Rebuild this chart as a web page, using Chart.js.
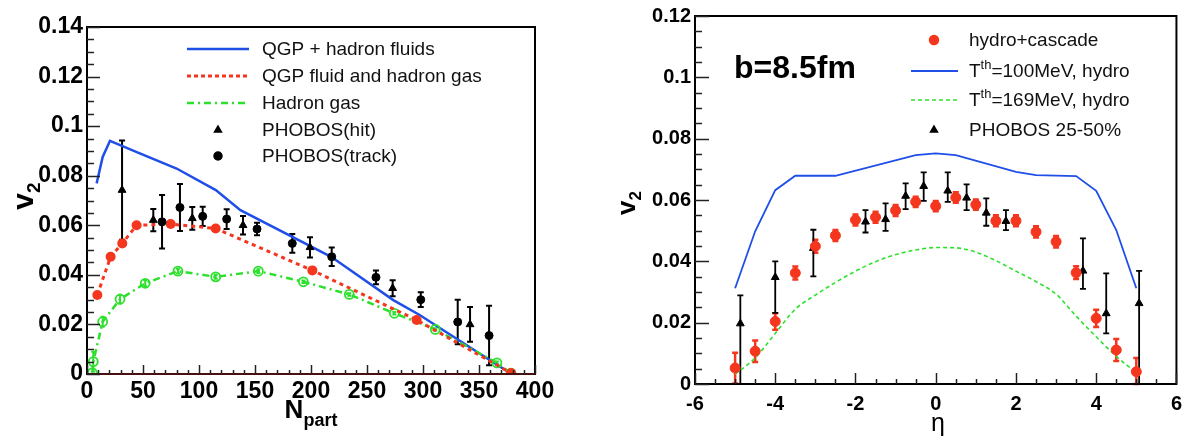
<!DOCTYPE html>
<html>
<head>
<meta charset="utf-8">
<script src="https://cdn.jsdelivr.net/npm/chart.js@4.4.0/dist/chart.umd.min.js"></script>
<style>
html, body { margin: 0; padding: 0; background: #fff; }
#left { position: absolute; left: 0; top: 0; width: 560px; height: 444px; }
#right { position: absolute; left: 600px; top: 0; width: 590px; height: 444px; }
</style>
</head>
<body>
<div id="left"><canvas id="cL"></canvas></div>
<div id="right"><canvas id="cR"></canvas></div>
<script>
// ---- left panel: v2 vs Npart ----
var leftXTicks = [0, 50, 100, 150, 200, 250, 300, 350, 400];
var leftYTicks = [0, 0.02, 0.04, 0.06, 0.08, 0.1, 0.12, 0.14];

var fluidN = [8.6, 14, 20.5, 45, 80, 115, 137, 218, 273.5, 297, 378];
var fluidV = [0.0769, 0.0876, 0.0941, 0.0894, 0.0829, 0.0742, 0.0661, 0.0473, 0.0298, 0.0238, 0.0003];

var gasN = [9.2, 21.1, 31.5, 44.3, 74.7, 114.9, 201.2, 294.3, 378.6];
var gasV = [0.0319, 0.0473, 0.0527, 0.0600, 0.0605, 0.0587, 0.0418, 0.0218, 0.0004];

var hadN = [4.8, 5.6, 14, 29.5, 52, 81.2, 114.9, 153, 193.2, 234.2, 274.4, 311, 366, 378.6];
var hadV = [0.0005, 0.005, 0.0211, 0.0302, 0.0366, 0.0415, 0.0392, 0.0415, 0.0372, 0.0321, 0.0245, 0.018, 0.0045, 0.0003];
var hadE = [0, 0.004, 0.002, 0.0018, 0.0012, 0.001, 0.0008, 0.0008, 0.0005, 0.0005, 0.0005, 0.0005, 0.0005, 0];

var hitN = [31.3, 59.2, 94, 139.3, 199.1, 272.9, 342];
var hitV = [0.0742, 0.0621, 0.0628, 0.0600, 0.0511, 0.0346, 0.020];
var hitE = [0.0200, 0.0045, 0.0046, 0.0037, 0.0041, 0.0032, 0.007];

var trackN = [67, 83, 103.3, 124.7, 151.8, 183.3, 218.5, 258, 298, 331, 359];
var trackV = [0.0614, 0.0672, 0.0636, 0.0625, 0.0585, 0.0527, 0.0473, 0.0390, 0.0300, 0.0210, 0.0155];
var trackE = [0.0108, 0.0095, 0.0039, 0.004, 0.0025, 0.0038, 0.0037, 0.0028, 0.003, 0.009, 0.012];

// ---- right panel: v2 vs eta ----
var rightXTicks = [-6, -4, -2, 0, 2, 4, 6];
var rightYTicks = [0, 0.02, 0.04, 0.06, 0.08, 0.1, 0.12];

var cascEta = [-5, -4.5, -4, -3.5, -3, -2.5, -2, -1.5, -1, -0.5, 0, 0.5, 1, 1.5, 2, 2.5, 3, 3.5, 4, 4.5, 5];
var cascV = [0.0052, 0.0107, 0.0204, 0.0362, 0.0449, 0.0484, 0.0535, 0.0544, 0.0566, 0.0594, 0.0580, 0.0608, 0.0585, 0.0532, 0.0532, 0.0496, 0.0464, 0.0363, 0.0214, 0.0111, 0.0040];
var cascE = [0.0050, 0.0035, 0.0027, 0.0021, 0.0021, 0.0018, 0.0018, 0.0018, 0.0018, 0.0017, 0.0017, 0.0017, 0.0017, 0.0018, 0.0018, 0.0018, 0.0019, 0.0021, 0.0028, 0.0036, 0.0045];

var t100Eta = [-5, -4.5, -4, -3.5, -2.5, -0.5, 0, 0.5, 2, 2.5, 3.5, 4, 4.5, 5];
var t100V = [0.0312, 0.0498, 0.0632, 0.0679, 0.0679, 0.0746, 0.0752, 0.0746, 0.0692, 0.0681, 0.0678, 0.063, 0.0502, 0.0312];

var t169Eta = [-5, -4.5, -4, -3.5, -3, -2.5, -2, -1.5, -1, -0.5, 0, 0.5, 1, 1.5, 2, 2.5, 3, 3.5, 4, 4.5, 5];
var t169V = [0.0032, 0.0085, 0.0165, 0.0244, 0.0290, 0.0331, 0.0368, 0.0399, 0.0422, 0.0437, 0.0445, 0.0444, 0.0430, 0.0402, 0.0368, 0.0334, 0.0293, 0.0221, 0.0154, 0.0090, 0.0037];

var phobEta = [-4.87, -4.0, -3.05, -1.75, -1.25, -0.75, -0.30, 0.30, 0.77, 1.26, 1.75, 3.67, 4.25, 5.07];
var phobV = [0.0197, 0.0348, 0.0443, 0.0529, 0.0537, 0.0613, 0.0645, 0.0630, 0.0607, 0.0558, 0.0531, 0.0369, 0.0230, 0.0263];
var phobHi = [0.0092, 0.0052, 0.006, 0.0038, 0.0052, 0.0041, 0.0045, 0.006, 0.0044, 0.0047, 0.0036, 0.0106, 0.0131, 0.0106];
var phobLo = [0.0197, 0.0116, 0.0092, 0.0035, 0.0038, 0.0043, 0.0048, 0.0036, 0.004, 0.0042, 0.0029, 0.0059, 0.0065, 0.0263];

var RED = '#f5361e', BLUE = '#1f4fe8', GREEN = '#2ee02e', BLACK = '#000';
var FONT = 'Liberation Sans, Arial, Helvetica, sans-serif';

Chart.defaults.font.family = FONT;
Chart.defaults.color = '#000';

function pts(xs, ys) {
	return xs.map(function (x, i) { return { x: x, y: ys[i] }; });
}

function fmt(v) {
	return String(+v.toFixed(3));
}

// draws text made of pieces, some of them raised or lowered
function richText(ctx, parts, x, y, align) {
	var total = 0;
	parts.forEach(function (p) { ctx.font = p.font; total += ctx.measureText(p.t).width; });
	var cx = align === 'center' ? x - total / 2 : x;
	ctx.textAlign = 'left';
	parts.forEach(function (p) {
		ctx.font = p.font;
		ctx.fillText(p.t, cx, y + (p.dy || 0));
		cx += ctx.measureText(p.t).width;
	});
}

var deco = {
	id: 'deco',
	beforeDatasetsDraw: function (chart, args, o) {
		var ctx = chart.ctx, xs = chart.scales.x, ys = chart.scales.y;
		ctx.save();
		chart.data.datasets.forEach(function (ds) {
			if (!ds.errHi) return;
			ctx.strokeStyle = ds.errColor;
			ctx.lineWidth = ds.errWidth;
			ds.data.forEach(function (p, j) {
				if (!ds.errHi[j] && !ds.errLo[j]) return;
				var px = xs.getPixelForValue(p.x);
				var top = ys.getPixelForValue(p.y + ds.errHi[j]);
				var bot = ys.getPixelForValue(Math.max(ys.min, p.y - ds.errLo[j]));
				ctx.beginPath();
				ctx.moveTo(px, top); ctx.lineTo(px, bot);
				ctx.moveTo(px - ds.capW, top); ctx.lineTo(px + ds.capW, top);
				ctx.moveTo(px - ds.capW, bot); ctx.lineTo(px + ds.capW, bot);
				ctx.stroke();
			});
		});
		ctx.restore();
	},
	afterDraw: function (chart, args, o) {
		var ctx = chart.ctx, a = chart.chartArea, xs = chart.scales.x, ys = chart.scales.y;
		ctx.save();
		// frame
		ctx.strokeStyle = '#000';
		ctx.lineWidth = o.frameWidth;
		ctx.strokeRect(a.left, a.top, a.right - a.left, a.bottom - a.top);
		if (o.bottomColor) {
			ctx.strokeStyle = o.bottomColor;
			ctx.beginPath(); ctx.moveTo(a.left, a.bottom); ctx.lineTo(a.right, a.bottom); ctx.stroke();
		}
		// ticks pointing in
		ctx.strokeStyle = '#222';
		ctx.lineWidth = o.tickWidth;
		var n = Math.round((xs.max - xs.min) / o.xMinor);
		for (var i = 0; i <= n; i++) {
			var v = xs.min + i * o.xMinor;
			var major = Math.abs(v / o.xMajor - Math.round(v / o.xMajor)) < 1e-6;
			var px = Math.round(xs.getPixelForValue(v)) + 0.5;
			ctx.beginPath(); ctx.moveTo(px, a.bottom); ctx.lineTo(px, a.bottom - (major ? o.xMajorLen : o.xMinorLen)); ctx.stroke();
		}
		n = Math.round((ys.max - ys.min) / o.yMinor);
		for (i = 0; i <= n; i++) {
			v = ys.min + i * o.yMinor;
			major = Math.abs(v / o.yMajor - Math.round(v / o.yMajor)) < 1e-6;
			var py = Math.round(ys.getPixelForValue(v)) + 0.5;
			ctx.beginPath(); ctx.moveTo(a.left, py); ctx.lineTo(a.left + (major ? o.yMajorLen : o.yMinorLen), py); ctx.stroke();
		}
		// legend
		ctx.fillStyle = '#111';
		ctx.textBaseline = 'middle';
		o.legend.forEach(function (e) {
			ctx.save();
			if (e.line) {
				ctx.strokeStyle = e.color;
				ctx.lineWidth = e.width;
				ctx.setLineDash(e.dash || []);
				ctx.beginPath(); ctx.moveTo(e.x0, e.y); ctx.lineTo(e.x1, e.y); ctx.stroke();
			}
			if (e.marker) {
				ctx.fillStyle = e.color;
				ctx.strokeStyle = e.color;
				Chart.helpers.drawPoint(ctx, { pointStyle: e.marker, radius: e.r, rotation: 0, borderWidth: 1 }, e.mx, e.y);
			}
			ctx.restore();
			ctx.fillStyle = '#111';
			ctx.textBaseline = 'middle';
			richText(ctx, e.parts, o.legendTextX, e.y + 1, 'left');
		});
		// titles
		ctx.fillStyle = '#000';
		ctx.textBaseline = 'alphabetic';
		o.titles.forEach(function (t) {
			ctx.save();
			ctx.translate(t.x, t.y);
			ctx.rotate(t.rot || 0);
			richText(ctx, t.parts, 0, 0, t.align || 'center');
			ctx.restore();
		});
		ctx.restore();
	}
};

function makeOptions(cfg) {
	return {
		responsive: true,
		maintainAspectRatio: false,
		animation: false,
		events: [],
		layout: { padding: cfg.padding },
		plugins: { legend: { display: false }, tooltip: { enabled: false }, deco: cfg.deco },
		scales: {
			x: {
				type: 'linear', min: cfg.xMin, max: cfg.xMax,
				afterBuildTicks: function (s) { s.ticks = cfg.xTicks.map(function (v) { return { value: v }; }); },
				afterFit: function (s) { s.height = cfg.xHeight; },
				ticks: { font: { size: cfg.tickSize, weight: 'bold' }, color: '#000', padding: cfg.xPad, maxRotation: 0, autoSkip: false, callback: fmt },
				grid: { display: false, drawTicks: false },
				border: { display: false }
			},
			y: {
				type: 'linear', min: cfg.yMin, max: cfg.yMax,
				afterBuildTicks: function (s) { s.ticks = cfg.yTicks.map(function (v) { return { value: v }; }); },
				afterFit: function (s) { s.width = cfg.yWidth; },
				ticks: { font: { size: cfg.tickSize, weight: 'bold' }, color: '#000', padding: cfg.yPad, autoSkip: false, callback: fmt },
				grid: { display: false, drawTicks: false },
				border: { display: false }
			}
		}
	};
}

// left chart
var fL = '19px ' + FONT;
new Chart(document.getElementById('cL'), {
	type: 'scatter',
	data: {
		datasets: [
			{ data: pts(trackN, trackV), pointStyle: 'circle', pointRadius: 4, backgroundColor: BLACK, borderColor: BLACK, showLine: false,
				errHi: trackE, errLo: trackE, errColor: BLACK, errWidth: 2, capW: 3 },
			{ data: pts(hitN, hitV), pointStyle: 'triangle', pointRadius: 4.5, backgroundColor: BLACK, borderColor: BLACK, showLine: false,
				errHi: hitE, errLo: hitE, errColor: BLACK, errWidth: 2, capW: 3 },
			{ data: pts(gasN, gasV), showLine: true, borderColor: RED, borderWidth: 3, borderDash: [4, 4],
				pointRadius: 5, pointBackgroundColor: RED, pointBorderColor: RED, pointBorderWidth: 0 },
			{ data: pts(hadN, hadV), showLine: true, borderColor: GREEN, borderWidth: 2.5, borderDash: [7, 4, 2, 4],
				pointRadius: 4.5, pointBackgroundColor: 'rgba(0,0,0,0)', pointBorderColor: GREEN, pointBorderWidth: 1.8,
				errHi: hadE, errLo: hadE, errColor: GREEN, errWidth: 2, capW: 2 },
			{ data: pts(fluidN, fluidV), showLine: true, borderColor: BLUE, borderWidth: 2.5, pointRadius: 0 }
		]
	},
	options: makeOptions({
		padding: { left: 0, top: 27, right: 25, bottom: 0 },
		xMin: 0, xMax: 400, yMin: 0, yMax: 0.14,
		xTicks: leftXTicks, yTicks: leftYTicks,
		xHeight: 70, yWidth: 87, tickSize: 23, xPad: 4, yPad: 4,
		deco: {
			frameWidth: 2, tickWidth: 1.5, bottomColor: '#4a1010',
			xMinor: 10, xMajor: 50, xMajorLen: 9, xMinorLen: 4,
			yMinor: 0.005, yMajor: 0.02, yMajorLen: 13, yMinorLen: 7,
			legendTextX: 262,
			legend: [
				{ y: 49, line: true, color: BLUE, width: 2.5, x0: 187, x1: 249, parts: [{ t: 'QGP + hadron fluids', font: fL }] },
				{ y: 76, line: true, color: RED, width: 3, dash: [4, 3], x0: 187, x1: 249, parts: [{ t: 'QGP fluid and hadron gas', font: fL }] },
				{ y: 103, line: true, color: GREEN, width: 2.5, dash: [7, 4, 2, 4], x0: 187, x1: 249, parts: [{ t: 'Hadron gas', font: fL }] },
				{ y: 130, marker: 'triangle', r: 4, mx: 218, color: BLACK, parts: [{ t: 'PHOBOS(hit)', font: fL }] },
				{ y: 156, marker: 'circle', r: 4, mx: 218, color: BLACK, parts: [{ t: 'PHOBOS(track)', font: fL }] }
			],
			titles: [
				{ x: 33, y: 196, rot: -Math.PI / 2, parts: [{ t: 'v', font: 'bold 30px ' + FONT }, { t: '2', font: 'bold 19px ' + FONT, dy: 7 }] },
				{ x: 311, y: 418, parts: [{ t: 'N', font: 'bold 26px ' + FONT }, { t: 'part', font: 'bold 18px ' + FONT, dy: 8 }] }
			]
		}
	}),
	plugins: [deco]
});

// right chart
var fR = '19px ' + FONT;
new Chart(document.getElementById('cR'), {
	type: 'scatter',
	data: {
		datasets: [
			{ data: pts(cascEta, cascV), pointStyle: 'circle', pointRadius: 5, backgroundColor: RED, borderColor: RED, showLine: false,
				errHi: cascE, errLo: cascE, errColor: RED, errWidth: 2.5, capW: 3 },
			{ data: pts(phobEta, phobV), pointStyle: 'triangle', pointRadius: 4.5, backgroundColor: BLACK, borderColor: BLACK, showLine: false,
				errHi: phobHi, errLo: phobLo, errColor: BLACK, errWidth: 1.8, capW: 3 },
			{ data: pts(t100Eta, t100V), showLine: true, borderColor: BLUE, borderWidth: 1.8, pointRadius: 0 },
			{ data: pts(t169Eta, t169V), showLine: true, borderColor: GREEN, borderWidth: 1.6, borderDash: [4, 3],
				pointRadius: 0, cubicInterpolationMode: 'monotone' }
		]
	},
	options: makeOptions({
		padding: { left: 0, top: 16, right: 9, bottom: 0 },
		xMin: -6, xMax: 6, yMin: 0, yMax: 0.12,
		xTicks: rightXTicks, yTicks: rightYTicks,
		xHeight: 60, yWidth: 95, tickSize: 20, xPad: 8, yPad: 4,
		deco: {
			frameWidth: 2, tickWidth: 1.5,
			xMinor: 0.5, xMajor: 2, xMajorLen: 11, xMinorLen: 5,
			yMinor: 0.005, yMajor: 0.02, yMajorLen: 14, yMinorLen: 7,
			legendTextX: 369,
			legend: [
				{ y: 40, marker: 'circle', r: 4.5, mx: 334, color: RED, parts: [{ t: 'hydro+cascade', font: fR }] },
				{ y: 71, line: true, color: BLUE, width: 1.8, x0: 311, x1: 358,
					parts: [{ t: 'T', font: fR }, { t: 'th', font: '13px ' + FONT, dy: -7 }, { t: '=100MeV, hydro', font: fR }] },
				{ y: 100, line: true, color: GREEN, width: 1.6, dash: [4, 3], x0: 311, x1: 358,
					parts: [{ t: 'T', font: fR }, { t: 'th', font: '13px ' + FONT, dy: -7 }, { t: '=169MeV, hydro', font: fR }] },
				{ y: 130, marker: 'triangle', r: 4, mx: 334, color: BLACK, parts: [{ t: 'PHOBOS 25-50%', font: fR }] }
			],
			titles: [
				{ x: 134, y: 78, align: 'left', parts: [{ t: 'b=8.5fm', font: 'bold 32px ' + FONT }] },
				{ x: 35, y: 203, rot: -Math.PI / 2, parts: [{ t: 'v', font: 'bold 26px ' + FONT }, { t: '2', font: 'bold 17px ' + FONT, dy: 6 }] },
				{ x: 338, y: 431, parts: [{ t: '\u03b7', font: '25px ' + FONT }] }
			]
		}
	}),
	plugins: [deco]
});
</script>
</body>
</html>
